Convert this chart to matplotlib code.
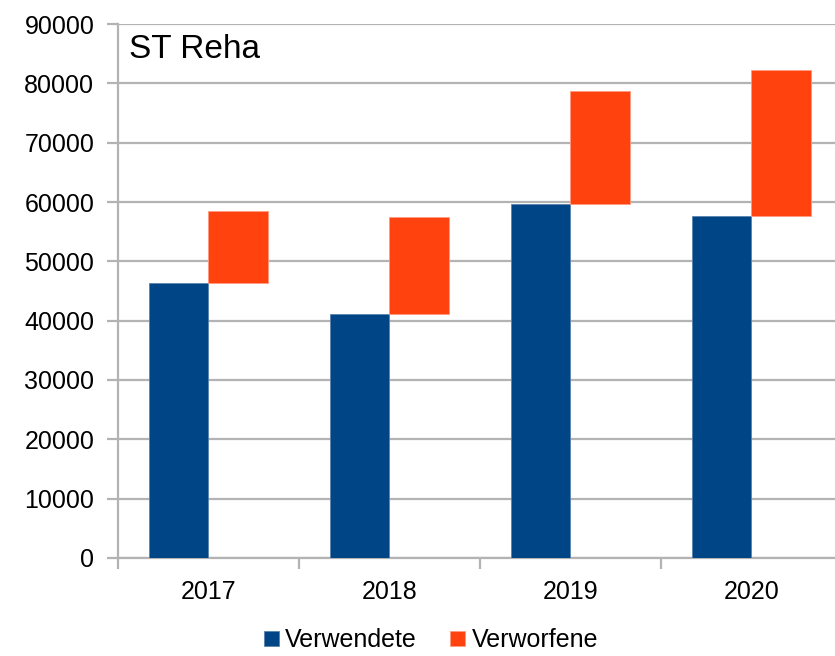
import matplotlib.pyplot as plt
import numpy as np

plt.rcParams['font.family'] = ['Liberation Sans', 'DejaVu Sans']

years = ['2017', '2018', '2019', '2020']
verwendete = [46400, 41100, 59700, 57600]
verworfene_top = [58500, 57500, 78700, 82200]
verworfene = [t - b for t, b in zip(verworfene_top, verwendete)]

blue = '#004586'
orange = '#ff420e'
grid = '#b3b3b3'

fig = plt.figure(figsize=(8.35, 6.56), dpi=100)
ax = fig.add_axes([0.1413, 0.1494, 0.867, 0.814])

x = np.arange(len(years))
w = 0.331
ax.bar(x + 0.5 - w, verwendete, width=w, align='edge', color=blue,
       edgecolor='#5b82ad', linewidth=0.6, label='Verwendete', zorder=3)
ax.bar(x + 0.5, verworfene, width=w, bottom=verwendete, align='edge',
       color=orange, edgecolor='#ff9a80', linewidth=0.6, label='Verworfene', zorder=3)

ax.set_xlim(0, 4)
ax.set_ylim(0, 90000)
ax.set_yticks(np.arange(0, 90001, 10000))
ax.set_xticks([0.5, 1.5, 2.5, 3.5])
ax.set_xticklabels(years)
ax.set_xticks([0, 1, 2, 3, 4], minor=True)

ax.yaxis.grid(True, color=grid, linewidth=1.6, zorder=0)
for s in ['top', 'right']:
    ax.spines[s].set_visible(False)
for s in ['left', 'bottom']:
    ax.spines[s].set_color(grid)
    ax.spines[s].set_linewidth(1.6)

ax.tick_params(axis='y', length=8, width=1.6, color=grid, labelsize=18, pad=9)
ax.tick_params(axis='x', which='major', length=0, labelsize=18, pad=16)
ax.tick_params(axis='x', which='minor', length=8, width=1.6, color=grid)

ax.text(0.015, 0.952, 'ST Reha', transform=ax.transAxes, fontsize=24,
        ha='left', va='center')

leg = fig.legend(loc='center', bbox_to_anchor=(0.516, 0.024), ncol=2, frameon=False,
                 fontsize=18, handlelength=0.6, handleheight=0.6,
                 handletextpad=0.24, columnspacing=1.36)

fig.savefig('out.png', dpi=100)
